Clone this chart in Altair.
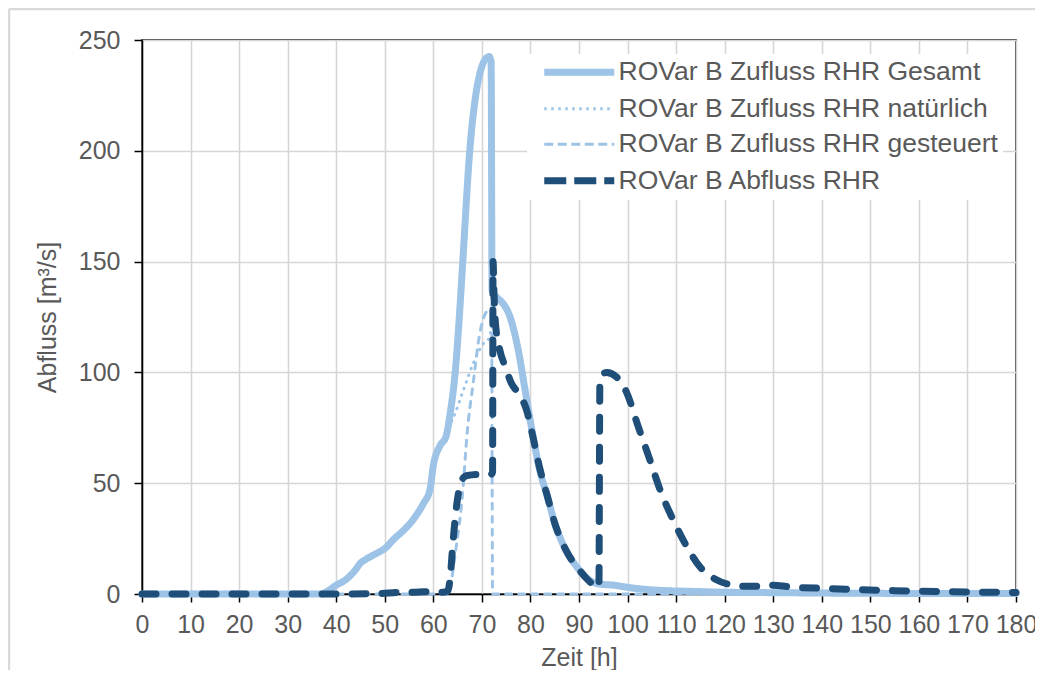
import altair as alt
import pandas as pd

NAMES = [
    "ROVar B Zufluss RHR Gesamt",
    "ROVar B Zufluss RHR natürlich",
    "ROVar B Zufluss RHR gesteuert",
    "ROVar B Abfluss RHR",
]
COLORS = ["#9DC3E6", "#9DC3E6", "#9DC3E6", "#1F4E79"]
DASHES = [[1, 0], [0.5, 6.5], [6, 7], [14, 16]]          # lines (round caps)
LEG_DASHES = [[1, 0], [2.5, 4.5], [9, 4.5], [22, 8]]      # legend symbols (butt caps)
WIDTHS = [7, 3, 3, 7]

X_TICKS = list(range(0, 181, 10))
Y_TICKS = [0, 50, 100, 150, 200, 250]

t_gesamt = [0, 10, 20, 30, 37, 38, 40, 42, 44, 45, 46, 48, 50, 52, 54, 56, 58, 59.3, 60,
            61.4, 62.6, 63.5, 64.5, 65.5, 66.2, 67.5, 68.6, 69.6, 70.6, 71.5, 71.9, 72.1,
            73, 74, 75.8, 77.5, 78.9, 80.3, 82, 83.5, 85, 86, 87.5, 90, 92, 93.5, 95, 97,
            100, 103, 108, 113, 120, 130, 150, 180]
q_gesamt = [0, 0, 0, 0, 0, 1, 4, 6.5, 11, 14, 15.5, 18, 20.5, 25, 29, 34, 41, 47, 58,
            67, 71, 82, 100, 130, 155, 200, 223, 235, 241, 242.5, 240, 137,
            134, 132, 125, 110, 92, 74, 55, 44, 32, 26, 19, 11, 6.5, 4.8, 4.3, 4,
            3, 2.2, 1.5, 1.2, 0.8, 0.6, 0.3, 0.2]

t_nat = [0, 10, 20, 30, 37, 38, 40, 42, 44, 45, 46, 48, 50, 52, 54, 56, 58, 59.3, 60,
         61.4, 62.6, 63.5, 64.5, 66.2, 68.2, 70.3, 71.7, 72.0, 72.1,
         73, 74, 75.8, 77.5, 78.9, 80.3, 82, 83.5, 85, 86, 87.5, 90, 92, 93.5, 95, 97,
         100, 103, 108, 113, 120, 130, 150, 180]
q_nat = [0, 0, 0, 0, 0, 1, 4, 6.5, 11, 14, 15.5, 18, 20.5, 25, 29, 34, 41, 47, 58,
         67, 71, 76.5, 81.6, 92, 104, 113, 116, 130, 137,
         134, 132, 125, 110, 92, 74, 55, 44, 32, 26, 19, 11, 6.5, 4.8, 4.3, 4,
         3, 2.2, 1.5, 1.2, 0.8, 0.6, 0.3, 0.2]

t_gest = [0, 63, 64.5, 66.2, 66.9, 68.2, 69.6, 70.6, 71.5, 72.0, 72.2, 180]
q_gest = [0, 0, 18, 50, 71, 95, 118, 126, 128.5, 129, 0, 0]

t_abfl = [0, 10, 20, 30, 40, 50, 54, 56, 58, 60, 62, 63, 63.5, 64, 64.8, 65.5, 66.2, 67,
          70, 71.9, 72.2, 72.3, 72.5, 72.8, 73.7, 74.8, 76.1, 77.5, 79.2, 80.3, 82, 83.5,
          85, 87.5, 90, 92, 93.5, 94.1, 94.3, 94.8, 95.7, 97.7, 99.8, 102.2, 104.6,
          106.7, 109.4, 112.2, 114.9, 118.4, 121.8, 124, 127, 130, 133, 141, 155, 175, 180]
q_abfl = [0, 0, 0, 0, 0, 0.3, 0.8, 0.8, 1, 0.8, 0.8, 1.5, 8, 22, 40, 49, 52.5, 53.5,
          54, 54, 55, 150, 135, 122, 110, 102.6, 95, 90.6, 83, 73, 56, 44,
          32, 19, 11, 6, 3.5, 3, 95, 99, 100, 98, 91, 75.5, 60.5,
          47, 33.4, 21.4, 12.3, 6.3, 4, 3.5, 3.5, 4, 3.3, 2.5, 1.5, 0.8, 0.7]

rows = []
for name, ts, qs in [
    (NAMES[0], t_gesamt, q_gesamt),
    (NAMES[1], t_nat, q_nat),
    (NAMES[2], t_gest, q_gest),
    (NAMES[3], t_abfl, q_abfl),
]:
    for t, q in zip(ts, qs):
        rows.append({"series": name, "t": t, "q": q})
df = pd.DataFrame(rows)

FONT = "Liberation Sans"
TXT = "#595959"

leg = alt.Legend(
    title=None, orient="none", legendX=385, legendY=14, fillColor="white",
    padding=5, symbolType="M-5,0H5", symbolSize=196, symbolOffset=34,
    labelFontSize=26.5, labelColor=TXT, labelFont=FONT, labelLimit=700,
    rowPadding=8.5, labelOffset=26,
)

x = alt.X("t:Q", scale=alt.Scale(domain=[0, 180], nice=False, zero=False),
          axis=alt.Axis(values=X_TICKS, title="Zeit [h]", titlePadding=8, labelPadding=10,
                        labelOverlap=False, labelFlush=False))
y = alt.Y("q:Q", scale=alt.Scale(domain=[0, 250], nice=False),
          axis=alt.Axis(values=Y_TICKS, title="Abfluss [m³/s]", titlePadding=18, labelPadding=14))


def style_enc(dashes, legend):
    return dict(
        color=alt.Color("series:N", scale=alt.Scale(domain=NAMES, range=COLORS), legend=legend),
        strokeDash=alt.StrokeDash("series:N", scale=alt.Scale(domain=NAMES, range=dashes), legend=legend),
        strokeWidth=alt.StrokeWidth("series:N", scale=alt.Scale(type="ordinal", domain=NAMES, range=WIDTHS),
                                    legend=legend),
    )


line_enc = style_enc(DASHES, None)
base = alt.Chart(df)
lines_kw = dict(interpolate="monotone", strokeCap="round", strokeJoin="round")

zufluss = base.transform_filter(
    alt.FieldOneOfPredicate(field="series", oneOf=NAMES[:3])
).mark_line(**lines_kw).encode(x=x, y=y, **line_enc)

abfluss = base.transform_filter(
    alt.FieldEqualPredicate(field="series", equal=NAMES[3])
).mark_line(**lines_kw).encode(x=x, y=y, **line_enc)

# legend-only layer (no rows survive the filter)
legend_layer = base.transform_filter("datum.q < -1").mark_line(strokeCap="butt").encode(
    x=x, y=y, **style_enc(LEG_DASHES, leg)
)

frame_data = alt.Data(values=[{"k": 1}])
frame_left = alt.Chart(frame_data).mark_rule(color="#D9D9D9", strokeWidth=2.5).encode(
    x=alt.value(-133), y=alt.value(-31), y2=alt.value(630)
)
frame_top = alt.Chart(frame_data).mark_rule(color="#D9D9D9", strokeWidth=2.5).encode(
    x=alt.value(-133), x2=alt.value(893), y=alt.value(-31)
)

chart = alt.layer(
    frame_left, frame_top, zufluss, abfluss, legend_layer
).resolve_scale(
    color="independent", strokeDash="independent", strokeWidth="independent"
).resolve_legend(
    color="independent", strokeDash="independent", strokeWidth="independent"
).properties(
    width=874, height=554,
    background="white",
    autosize=alt.AutoSizeParams(type="none"),
    padding={"left": 134, "top": 32, "right": 19, "bottom": 76},
).configure_view(
    stroke="black", strokeWidth=1.5
).configure_axis(
    domainColor="black", domainWidth=1.5, tickColor="black", tickWidth=1.5, tickSize=8,
    gridColor="#D6D6D6", gridWidth=1.6, labelFontSize=25, labelColor=TXT, labelFont=FONT,
    titleFontSize=25, titleColor=TXT, titleFont=FONT, titleFontWeight="normal",
)

chart.save("out.html", embed_options={"renderer": "svg", "actions": False})
